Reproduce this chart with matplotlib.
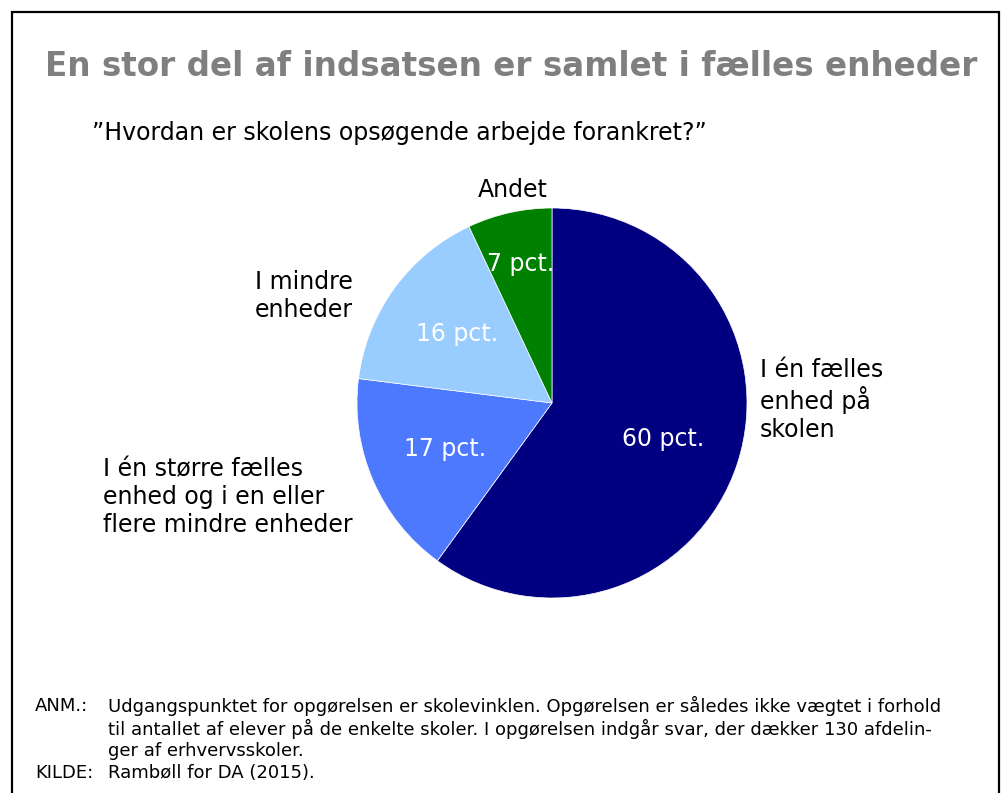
import matplotlib.pyplot as plt
from matplotlib.patches import Rectangle

# Data
categories = ['I én fælles\nenhed på\nskolen',
              'I én større fælles\nenhed og i en eller\nflere mindre enheder',
              'I mindre\nenheder',
              'Andet']
values = [60, 17, 16, 7]
colors = ['#000080', '#4D79FF', '#99CCFF', '#008000']

title = 'En stor del af indsatsen er samlet i fælles enheder'
subtitle = '\u201dHvordan er skolens opsøgende arbejde forankret?\u201d'
note_lines = ['Udgangspunktet for opgørelsen er skolevinklen. Opgørelsen er således ikke vægtet i forhold',
              'til antallet af elever på de enkelte skoler. I opgørelsen indgår svar, der dækker 130 afdelin-',
              'ger af erhvervsskoler.']
source = 'Rambøll for DA (2015).'

plt.rcParams['font.family'] = ['DejaVu Sans']

fig = plt.figure(figsize=(10.01, 7.93), dpi=100)
W, H = 1001, 793

# Frame
fig.patches.append(Rectangle((12 / W, -0.01), (W - 14) / W, (H - 12) / H + 0.01,
                             transform=fig.transFigure, fill=False, edgecolor='black', linewidth=1.6))

# Pie axes: center (552, 403), radius 195 px
r = 195
ax = fig.add_axes([(552 - r) / W, (H - 403 - r) / H, 2 * r / W, 2 * r / H])
wedges, texts, autotexts = ax.pie(values, colors=colors, startangle=90, counterclock=False,
                                  autopct=lambda p: f'{p:.0f} pct.', pctdistance=0.6,
                                  wedgeprops=dict(linewidth=0.5, edgecolor='white'),
                                  textprops=dict(color='white', fontsize=17))
ax.set_xlim(-1, 1)
ax.set_ylim(-1, 1)
ax.set_aspect('equal')

# move the small "Andet" value label further out, like the original
x, y = autotexts[3].get_position()
autotexts[3].set_position((x * 0.73 / 0.6, y * 0.73 / 0.6))

# Category labels
label_pos = [(1.067, 0.015, 'left'), (-2.303, -0.482, 'left'), (-1.523, 0.549, 'left'), (-0.2, 1.09, 'center')]
for lab, (x, y, ha) in zip(categories, label_pos):
    ax.text(x, y, lab, ha=ha, va='center', fontsize=17, color='black', linespacing=1.2, clip_on=False)

fig.text(45 / W, 1 - 66 / H, title, fontsize=23.5, fontweight='bold', color='#7F7F7F', va='center', ha='left')
fig.text(92 / W, 1 - 133 / H, subtitle, fontsize=17, color='black', va='center', ha='left')

# Notes
fs = 13
fig.text(35 / W, 1 - 706 / H, 'ANM.:', fontsize=fs, va='center')
for i, line in enumerate(note_lines):
    fig.text(108 / W, 1 - (706 + 22.5 * i) / H, line, fontsize=fs, va='center')
fig.text(35 / W, 1 - 773 / H, 'KILDE:', fontsize=fs, va='center')
fig.text(108 / W, 1 - 773 / H, source, fontsize=fs, va='center')

fig.savefig('out.png', dpi=100)
